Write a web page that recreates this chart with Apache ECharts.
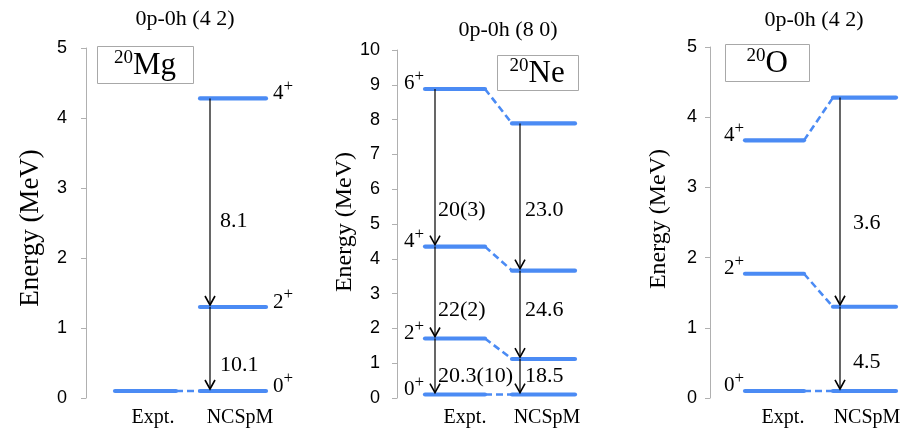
<!DOCTYPE html>
<html>
<head>
<meta charset="utf-8">
<script src="https://cdn.jsdelivr.net/npm/echarts@6/dist/echarts.min.js"></script>
<style>
html,body{margin:0;padding:0;background:#fff;}
#chart{width:909px;height:437px;}
</style>
</head>
<body>
<div id="chart"></div>
<script>
// ---------------- data ----------------
const categories = ['Expt.', 'NCSpM'];
const panelTitles = ['0p-0h (4 2)', '0p-0h (8 0)', '0p-0h (4 2)'];
const yAxisTitle = 'Energy (MeV)';
const nuclei = [['20', 'Mg'], ['20', 'Ne'], ['20', 'O']];
const yMax = [5, 10, 5];
const yTickStep = [1, 1, 1];

// 20Mg
const mgSpins = ['0', '2', '4'];
const mgExpt = [0.1];
const mgCalc = [0.1, 1.30, 4.28];
const mgExptBE2 = [];
const mgCalcBE2 = ['10.1', '8.1'];

// 20Ne
const neSpins = ['0', '2', '4', '6'];
const neExpt = [0.1, 1.71, 4.35, 8.88];
const neCalc = [0.1, 1.12, 3.66, 7.89];
const neExptBE2 = ['20.3(10)', '22(2)', '20(3)'];
const neCalcBE2 = ['18.5', '24.6', '23.0'];

// 20O
const oSpins = ['0', '2', '4'];
const oExpt = [0.1, 1.77, 3.67];
const oCalc = [0.1, 1.30, 4.28];
const oExptBE2 = [];
const oCalcBE2 = ['4.5', '3.6'];

// ---------------- layout (styling only) ----------------
const BLUE = '#4b8bf4';
const SERIF = 'Liberation Serif';
const SANS = 'Liberation Sans';

const panels = [
  { grid: {left: 86, top: 48, width: 200, height: 350},
    expt: mgExpt, calc: mgCalc, spins: mgSpins, exptBE2: mgExptBE2, calcBE2: mgCalcBE2,
    ex: [29, 90], cx: [114, 180], catPos: [67, 154],
    spinSide: 'calc', exptArrowX: 0, calcArrowX: 124,
    exptLabFrac: [], calcLabFrac: [0.31, 0.41], exptLabDx: 4, calcLabDx: 10,
    name: [31, 228], nameSize: 27, labelMargin: 19,
    title: [185, 19], box: [97, 46, 96, 37] },
  { grid: {left: 397, top: 50, width: 200, height: 348},
    expt: neExpt, calc: neCalc, spins: neSpins, exptBE2: neExptBE2, calcBE2: neCalcBE2,
    ex: [28, 88], cx: [115, 178], catPos: [68, 150],
    spinSide: 'expt', exptArrowX: 38, calcArrowX: 123,
    exptLabFrac: [0.33, 0.31, 0.23], calcLabFrac: [0.52, 0.55, 0.41], exptLabDx: 3, calcLabDx: 5,
    name: [345, 222], nameSize: 24, labelMargin: 17,
    title: [508, 30], box: [497, 55, 81, 35] },
  { grid: {left: 710, top: 47, width: 195, height: 351},
    expt: oExpt, calc: oCalc, spins: oSpins, exptBE2: oExptBE2, calcBE2: oCalcBE2,
    ex: [35, 94], cx: [123, 186], catPos: [73, 157],
    spinSide: 'expt', exptArrowX: 0, calcArrowX: 130,
    exptLabFrac: [], calcLabFrac: [0.34, 0.40], exptLabDx: 4, calcLabDx: 13,
    name: [659, 219], nameSize: 24, labelMargin: 13,
    title: [814, 20], box: [725, 44, 84, 37] }
];

// ---------------- build option ----------------
const grids = [], xAxes = [], yAxes = [], series = [], graphics = [];

function levelLine(gi, x0, x1, e, z) {
  return {
    type: 'line', xAxisIndex: gi, yAxisIndex: gi, silent: true, animation: false,
    symbol: 'none', z: z || 3,
    lineStyle: {color: BLUE, width: 4.2, cap: 'round'},
    data: [[x0, e], [x1, e]]
  };
}
function connector(gi, x0, e0, x1, e1) {
  return {
    type: 'line', xAxisIndex: gi, yAxisIndex: gi, silent: true, animation: false,
    symbol: 'none', z: 2,
    lineStyle: {color: BLUE, width: 2.6, type: [7, 4]},
    data: [[x0, e0], [x1, e1]]
  };
}
function arrowSeries(gi, x, energies, n) {
  const data = [];
  for (let i = 0; i < n; i++) data.push([x, energies[i + 1], energies[i]]);
  return {
    type: 'custom', coordinateSystem: 'cartesian2d', xAxisIndex: gi, yAxisIndex: gi,
    silent: true, animation: false, z: 5, data: data,
    renderItem: function (params, api) {
      const p0 = api.coord([api.value(0), api.value(1)]);
      const p1 = api.coord([api.value(0), api.value(2)]);
      const tipY = p1[1] - 2;
      return {
        type: 'group', children: [
          {type: 'line', shape: {x1: p0[0], y1: p0[1], x2: p1[0], y2: tipY},
           style: {stroke: '#000', lineWidth: 1.2}},
          {type: 'polyline', shape: {points: [[p1[0] - 5, tipY - 9], [p1[0], tipY], [p1[0] + 5, tipY - 9]]},
           style: {stroke: '#000', fill: null, lineWidth: 1.6}}
        ]
      };
    }
  };
}
function be2Labels(gi, x, dx, energies, texts, fracs) {
  const data = [];
  for (let i = 0; i < texts.length; i++) data.push([x, energies[i], energies[i + 1]]);
  return {
    type: 'custom', coordinateSystem: 'cartesian2d', xAxisIndex: gi, yAxisIndex: gi,
    silent: true, animation: false, z: 6, data: data,
    renderItem: function (params, api) {
      const i = params.dataIndex;
      const lo = api.value(1), hi = api.value(2);
      const p = api.coord([api.value(0), lo + fracs[i] * (hi - lo)]);
      return {
        type: 'text', x: p[0] + dx, y: p[1],
        style: {text: texts[i], font: '22px "' + SERIF + '"', fill: '#000',
                align: 'left', verticalAlign: 'middle'}
      };
    }
  };
}
// spin label "J+" : main digit plus raised "+"
function spinLabels(gi, x, side, energies, spins) {
  const data = energies.map(e => [x, e]);
  const mainFont = '21px "' + SERIF + '"';
  const supFont = '17px "' + SERIF + '"';
  const digitW = 10.5, plusW = 9.6;
  return {
    type: 'custom', coordinateSystem: 'cartesian2d', xAxisIndex: gi, yAxisIndex: gi,
    silent: true, animation: false, z: 6, data: data,
    renderItem: function (params, api) {
      const p = api.coord([api.value(0), api.value(1)]);
      const left = side === 'right' ? p[0] + 7 : p[0] - 1 - digitW - plusW;
      const cy = p[1] - 5;
      return {
        type: 'group', children: [
          {type: 'text', x: left, y: cy,
           style: {text: spins[params.dataIndex], font: mainFont, fill: '#000', align: 'left', verticalAlign: 'middle'}},
          {type: 'text', x: left + digitW, y: cy - 7,
           style: {text: '+', font: supFont, fill: '#000', align: 'left', verticalAlign: 'middle'}}
        ]
      };
    }
  };
}

panels.forEach((p, gi) => {
  grids.push(Object.assign({containLabel: false, outerBoundsMode: 'none'}, p.grid));
  xAxes.push({
    gridIndex: gi, type: 'value', min: 0, max: p.grid.width,
    axisLine: {show: false}, axisTick: {show: false}, splitLine: {show: false},
    axisLabel: {
      show: true, customValues: p.catPos, margin: 10,
      color: '#000', fontFamily: SERIF, fontSize: 20,
      formatter: v => (v === p.catPos[0] ? categories[0] : categories[1])
    }
  });
  yAxes.push({
    gridIndex: gi, type: 'value', min: 0, max: yMax[gi], interval: yTickStep[gi],
    axisLine: {show: true, lineStyle: {color: '#b0b0b0', width: 1}},
    axisTick: {show: true, inside: false, length: 5, lineStyle: {color: '#b0b0b0'}},
    splitLine: {show: false},
    axisLabel: {color: '#000', fontFamily: SANS, fontSize: 18, margin: p.labelMargin}
  });

  const nConn = Math.min(p.expt.length, p.calc.length);
  for (let i = 0; i < nConn; i++) series.push(connector(gi, p.ex[1], p.expt[i], p.cx[0], p.calc[i]));
  p.expt.forEach(e => series.push(levelLine(gi, p.ex[0], p.ex[1], e)));
  p.calc.forEach(e => series.push(levelLine(gi, p.cx[0], p.cx[1], e)));
  if (p.exptBE2.length) {
    series.push(arrowSeries(gi, p.exptArrowX, p.expt, p.exptBE2.length));
    series.push(be2Labels(gi, p.exptArrowX, p.exptLabDx, p.expt, p.exptBE2, p.exptLabFrac));
  }
  if (p.calcBE2.length) {
    series.push(arrowSeries(gi, p.calcArrowX, p.calc, p.calcBE2.length));
    series.push(be2Labels(gi, p.calcArrowX, p.calcLabDx, p.calc, p.calcBE2, p.calcLabFrac));
  }
  if (p.spinSide === 'calc') series.push(spinLabels(gi, p.cx[1], 'right', p.calc, p.spins));
  else series.push(spinLabels(gi, p.ex[0], 'left', p.expt, p.spins));

  // y-axis title (serif, rotated)
  graphics.push({
    type: 'text', x: p.name[0], y: p.name[1], rotation: Math.PI / 2, silent: true,
    style: {text: yAxisTitle, font: p.nameSize + 'px "' + SERIF + '"', fill: '#000', align: 'center', verticalAlign: 'middle'}
  });
  graphics.push({
    type: 'text', x: p.title[0], y: p.title[1], silent: true,
    style: {text: panelTitles[gi], font: '22px "' + SERIF + '"', fill: '#000', align: 'center', verticalAlign: 'middle'}
  });
  // nucleus box: mass number raised before element symbol
  const b = p.box;
  graphics.push({
    type: 'rect', silent: true, shape: {x: b[0] + 0.5, y: b[1] + 0.5, width: b[2], height: b[3]},
    style: {fill: '#fff', stroke: '#a8a8a8', lineWidth: 1}, z: 10
  });
  const supW = 19, symW = nuclei[gi][1] === 'Mg' ? 43 : (nuclei[gi][1] === 'Ne' ? 37 : 22);
  const startX = b[0] + b[2] / 2 - (supW + symW) / 2;
  const cy = b[1] + b[3] / 2 + 1;
  graphics.push({
    type: 'text', silent: true, x: startX, y: cy - 7, z: 11,
    style: {text: nuclei[gi][0], font: '19px "' + SERIF + '"', fill: '#000', align: 'left', verticalAlign: 'middle'}
  });
  graphics.push({
    type: 'text', silent: true, x: startX + supW, y: cy, z: 11,
    style: {text: nuclei[gi][1], font: '31px "' + SERIF + '"', fill: '#000', align: 'left', verticalAlign: 'middle'}
  });
});

const chart = echarts.init(document.getElementById('chart'), null, {renderer: 'canvas'});
chart.setOption({
  animation: false,
  backgroundColor: '#fff',
  grid: grids, xAxis: xAxes, yAxis: yAxes, series: series, graphic: graphics
});
</script>
</body>
</html>
